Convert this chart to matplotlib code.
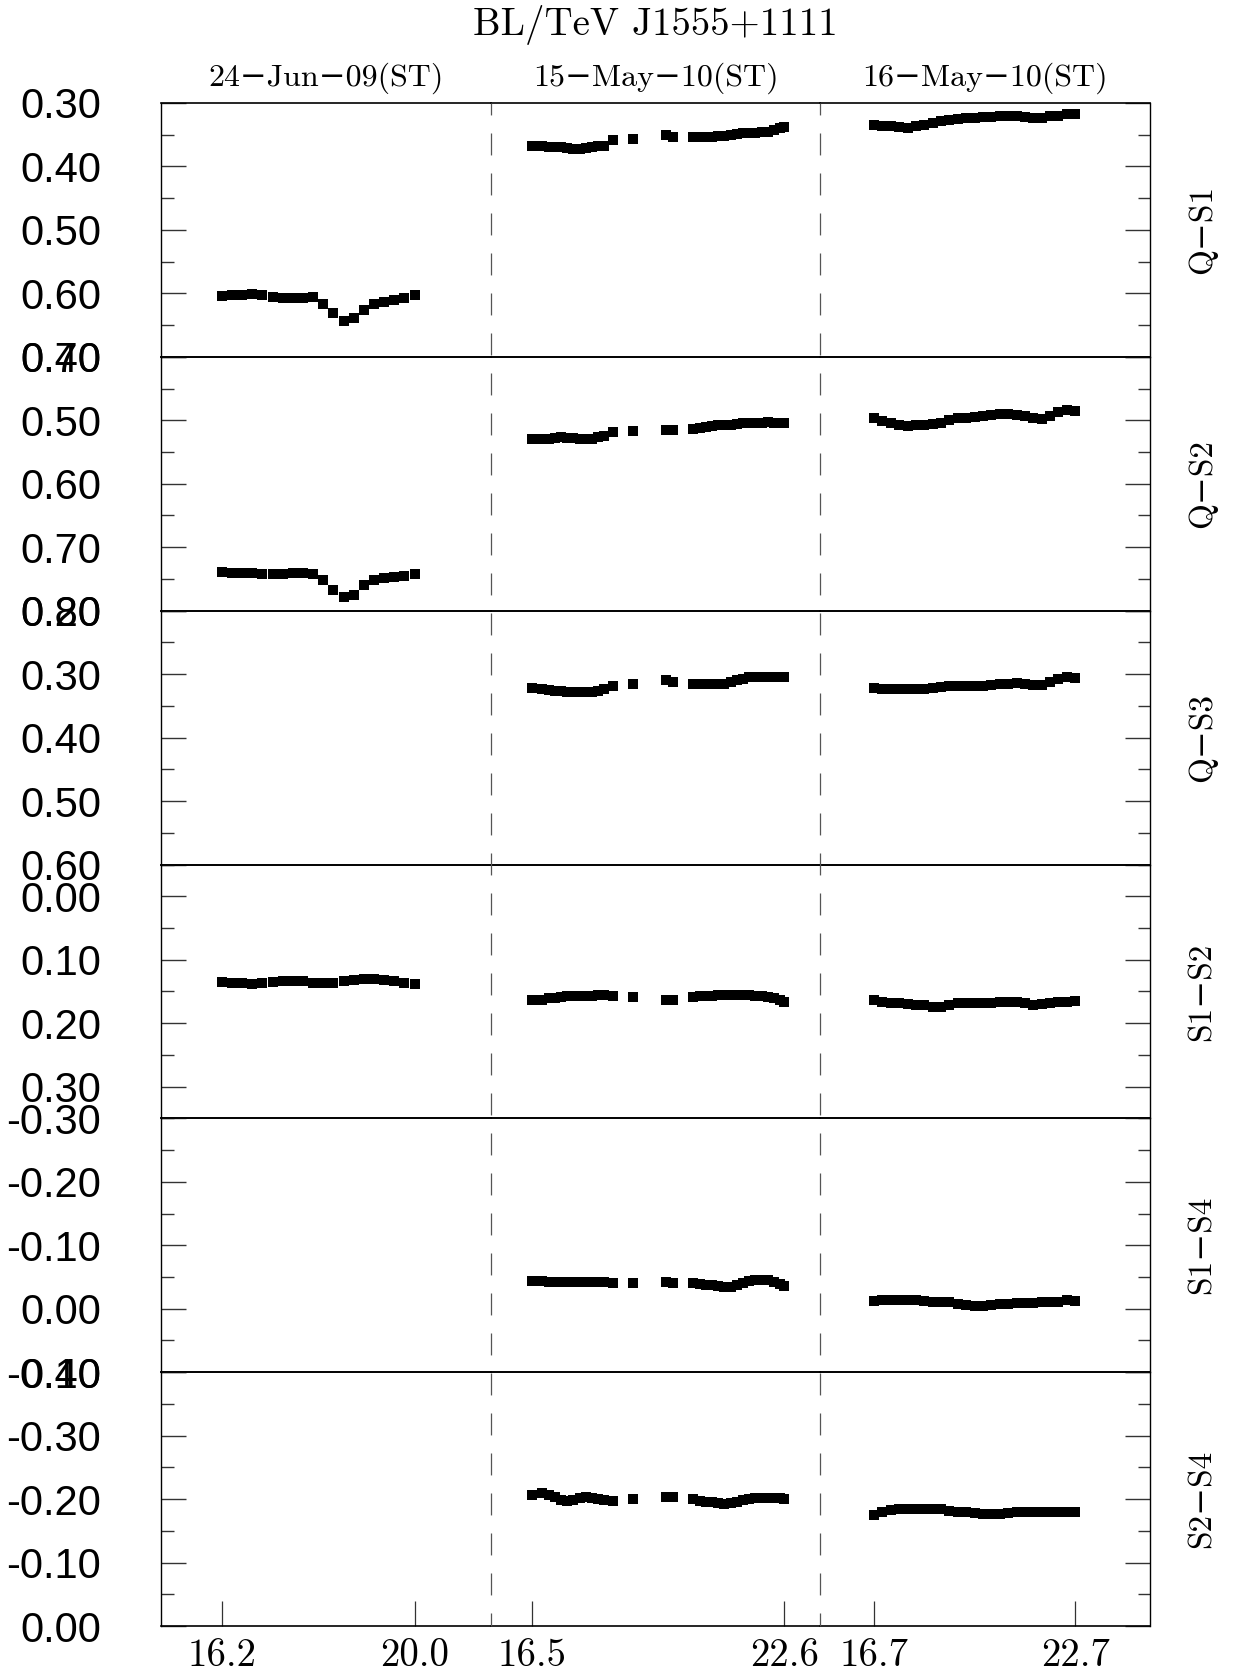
import matplotlib
matplotlib.use("Agg")
import matplotlib.pyplot as plt
from matplotlib.lines import Line2D
from matplotlib.ticker import MultipleLocator, FuncFormatter

plt.rcParams['lines.scale_dashes'] = False

# ---------------- data ----------------
nights = ['24−Jun−09(ST)', '15−May−10(ST)', '16−May−10(ST)']
panel_labels = ['Q−S1', 'Q−S2', 'Q−S3', 'S1−S2', 'S1−S4', 'S2−S4']

t_n1 = [16.2, 16.4, 16.6, 16.8, 17.0, 17.2, 17.4, 17.6, 17.8, 18.0,
        18.2, 18.4, 18.6, 18.8, 19.0, 19.2, 19.4, 19.6, 19.8, 20.0]
t_n2 = [16.50, 16.75, 16.90, 17.05, 17.20, 17.35, 17.50, 17.65, 17.80, 17.95,
        18.10, 18.25, 18.45, 18.95, 19.75, 19.90, 20.40, 20.55, 20.70, 20.85,
        21.00, 21.15, 21.30, 21.45, 21.60, 21.75, 21.90, 22.05, 22.20, 22.35,
        22.50, 22.60]
t_n3 = [16.70, 16.95, 17.20, 17.45, 17.70, 17.95, 18.20, 18.45, 18.70, 18.95,
        19.20, 19.45, 19.70, 19.95, 20.20, 20.45, 20.70, 20.95, 21.20, 21.45,
        21.70, 21.95, 22.20, 22.45, 22.70]

qs1_n1 = [0.604, 0.603, 0.602, 0.601, 0.603, 0.606, 0.608, 0.608, 0.607, 0.606,
          0.617, 0.631, 0.643, 0.639, 0.626, 0.616, 0.613, 0.611, 0.608, 0.603]
qs1_n2 = [0.367, 0.368, 0.369, 0.369, 0.370, 0.371, 0.372, 0.372, 0.371, 0.370,
          0.368, 0.367, 0.358, 0.357, 0.351, 0.354, 0.354, 0.354, 0.353, 0.353,
          0.352, 0.352, 0.350, 0.349, 0.348, 0.347, 0.347, 0.346, 0.345, 0.342,
          0.340, 0.338]
qs1_n3 = [0.335, 0.336, 0.337, 0.338, 0.339, 0.337, 0.334, 0.331, 0.328, 0.327,
          0.325, 0.324, 0.323, 0.322, 0.322, 0.321, 0.321, 0.321, 0.322, 0.323,
          0.324, 0.321, 0.320, 0.318, 0.318]

qs2_n1 = [0.739, 0.740, 0.741, 0.741, 0.742, 0.743, 0.742, 0.741, 0.741, 0.743,
          0.752, 0.768, 0.778, 0.775, 0.760, 0.751, 0.748, 0.747, 0.745, 0.742]
qs2_n2 = [0.529, 0.530, 0.529, 0.528, 0.527, 0.528, 0.528, 0.529, 0.530, 0.529,
          0.527, 0.524, 0.518, 0.517, 0.516, 0.516, 0.513, 0.512, 0.510, 0.509,
          0.508, 0.508, 0.507, 0.506, 0.505, 0.505, 0.504, 0.504, 0.503, 0.504,
          0.505, 0.505]
qs2_n3 = [0.497, 0.501, 0.504, 0.507, 0.509, 0.508, 0.507, 0.506, 0.505, 0.500,
          0.496, 0.496, 0.495, 0.494, 0.492, 0.490, 0.490, 0.491, 0.493, 0.496,
          0.498, 0.494, 0.487, 0.484, 0.485]

qs3_n1 = []
qs3_n2 = [0.322, 0.324, 0.325, 0.326, 0.327, 0.328, 0.328, 0.328, 0.328, 0.328,
          0.326, 0.324, 0.318, 0.315, 0.309, 0.312, 0.315, 0.316, 0.316, 0.316,
          0.316, 0.315, 0.312, 0.309, 0.307, 0.305, 0.304, 0.304, 0.304, 0.304,
          0.304, 0.304]
qs3_n3 = [0.322, 0.323, 0.323, 0.324, 0.324, 0.324, 0.323, 0.322, 0.320, 0.319,
          0.319, 0.319, 0.318, 0.318, 0.317, 0.316, 0.315, 0.314, 0.315, 0.317,
          0.317, 0.312, 0.308, 0.305, 0.306]

s12_n1 = [0.135, 0.137, 0.137, 0.138, 0.137, 0.135, 0.134, 0.134, 0.134, 0.136,
          0.137, 0.136, 0.134, 0.132, 0.131, 0.131, 0.132, 0.134, 0.136, 0.138]
s12_n2 = [0.163, 0.163, 0.161, 0.160, 0.159, 0.158, 0.157, 0.158, 0.158, 0.157,
          0.156, 0.156, 0.158, 0.159, 0.163, 0.163, 0.159, 0.158, 0.157, 0.157,
          0.156, 0.156, 0.155, 0.155, 0.156, 0.156, 0.157, 0.158, 0.159, 0.161,
          0.164, 0.166]
s12_n3 = [0.163, 0.166, 0.168, 0.169, 0.170, 0.171, 0.172, 0.174, 0.174, 0.171,
          0.169, 0.169, 0.169, 0.168, 0.168, 0.167, 0.167, 0.167, 0.169, 0.171,
          0.170, 0.168, 0.167, 0.166, 0.165]

s14_n1 = []
s14_n2 = [-0.044, -0.043, -0.042, -0.042, -0.042, -0.042, -0.042, -0.042, -0.042, -0.042,
          -0.042, -0.042, -0.040, -0.041, -0.042, -0.041, -0.040, -0.039, -0.038, -0.037,
          -0.035, -0.034, -0.034, -0.037, -0.040, -0.043, -0.045, -0.046, -0.045, -0.042,
          -0.039, -0.036]
s14_n3 = [-0.012, -0.013, -0.013, -0.013, -0.013, -0.013, -0.012, -0.011, -0.010, -0.010,
          -0.008, -0.006, -0.005, -0.005, -0.006, -0.008, -0.008, -0.009, -0.009, -0.009,
          -0.010, -0.010, -0.011, -0.013, -0.012]

s24_n1 = []
s24_n2 = [-0.207, -0.210, -0.206, -0.203, -0.199, -0.197, -0.199, -0.201, -0.203, -0.202,
          -0.200, -0.199, -0.197, -0.200, -0.204, -0.203, -0.200, -0.197, -0.196, -0.195,
          -0.194, -0.193, -0.194, -0.196, -0.198, -0.200, -0.202, -0.202, -0.201, -0.201,
          -0.201, -0.200]
s24_n3 = [-0.175, -0.180, -0.183, -0.184, -0.185, -0.185, -0.185, -0.185, -0.184, -0.182,
          -0.180, -0.179, -0.178, -0.176, -0.176, -0.176, -0.178, -0.179, -0.180, -0.180,
          -0.180, -0.179, -0.179, -0.179, -0.179]

times = [t_n1, t_n2, t_n3]
values = [[qs1_n1, qs1_n2, qs1_n3],
          [qs2_n1, qs2_n2, qs2_n3],
          [qs3_n1, qs3_n2, qs3_n3],
          [s12_n1, s12_n2, s12_n3],
          [s14_n1, s14_n2, s14_n3],
          [s24_n1, s24_n2, s24_n3]]
y_ranges = [(0.30, 0.70), (0.40, 0.80), (0.20, 0.60),
            (-0.05, 0.35), (-0.30, 0.10), (-0.40, 0.00)]
x_ranges = [(15.0, 21.5), (15.5, 23.47), (15.1, 24.93)]

# ---------------- layout ----------------
W, H = 1233, 1672
fig = plt.figure(figsize=(W / 100, H / 100), dpi=100)
L, R, T, B = 161, 1150, 103, 1626
gs = fig.add_gridspec(6, 3, left=L / W, right=R / W, top=1 - T / H,
                      bottom=1 - B / H, wspace=0, hspace=0)

serif = ['cmr10', 'DejaVu Serif']
sans = 'Liberation Sans'


def yfmt(v, pos):
    return f"{round(v, 2) + 0.0:.2f}"


axes = [[None] * 3 for _ in range(6)]
for r in range(6):
    for c in range(3):
        ax = fig.add_subplot(gs[r, c])
        axes[r][c] = ax
        t = times[c]
        v = values[r][c]
        if len(v):
            ax.plot(t, v, 's', color='black', markersize=7.6,
                    markeredgewidth=0)
        ax.set_xlim(*x_ranges[c])
        lo, hi = y_ranges[r]
        ax.set_ylim(hi, lo)
        ax.yaxis.set_major_locator(MultipleLocator(0.1))
        ax.yaxis.set_minor_locator(MultipleLocator(0.05))
        ax.yaxis.set_major_formatter(FuncFormatter(yfmt))
        ax.tick_params(axis='y', which='both', direction='in',
                       left=(c == 0), right=(c == 2),
                       labelleft=(c == 0), labelright=False,
                       width=1.0, color='#333333')
        ax.tick_params(axis='y', which='major', length=18, pad=43,
                       labelsize=30)
        ax.tick_params(axis='y', which='minor', length=9)
        for lab in ax.get_yticklabels():
            lab.set_family(sans)
        if r == 5:
            ax.set_xticks([t[0], t[-1]])
            ax.set_xticklabels([f"{t[0]:.1f}", f"{t[-1]:.1f}"])
            ax.tick_params(axis='x', which='major', direction='in',
                           length=18, width=0.9, pad=9, labelsize=28,
                           top=False, bottom=True, color='#333333')
            for lab in ax.get_xticklabels():
                lab.set_family(serif)
        else:
            ax.set_xticks([])
        ax.tick_params(axis='x', which='minor', bottom=False, top=False)
        for side in ('top', 'bottom'):
            ax.spines[side].set_linewidth(1.2)
            ax.spines[side].set_color('black')
        ax.spines['left'].set_visible(c == 0)
        ax.spines['right'].set_visible(c == 2)
        ax.spines['left'].set_linewidth(1.0)
        ax.spines['right'].set_linewidth(1.0)
        ax.patch.set_visible(False)

# dashed separators between nights
y_top = axes[0][0].get_position().y1
y_bot = axes[5][0].get_position().y0
for c in (1, 2):
    xb = axes[0][c].get_position().x0
    fig.add_artist(Line2D([xb, xb], [y_top, y_bot], transform=fig.transFigure,
                          color='#555555', linewidth=0.9,
                          linestyle=(7.2, (15.8, 13.0))))

# night labels on top
for c in range(3):
    p = axes[0][c].get_position()
    fig.text((p.x0 + p.x1) / 2, 1 - 86 / H, nights[c], ha='center',
             va='baseline', fontsize=23, family=serif)

# title
fig.text(0.5 * (L + R) / W, 1 - 35 / H, 'BL/TeV J1555+1111', ha='center',
         va='baseline', fontsize=28, family=serif)

# panel labels on right
for r in range(6):
    p = axes[r][2].get_position()
    fig.text(1202 / W, (p.y0 + p.y1) / 2, panel_labels[r], rotation=90,
             ha='center', va='center', fontsize=24, family=serif)

fig.savefig('out.png', dpi=100)
